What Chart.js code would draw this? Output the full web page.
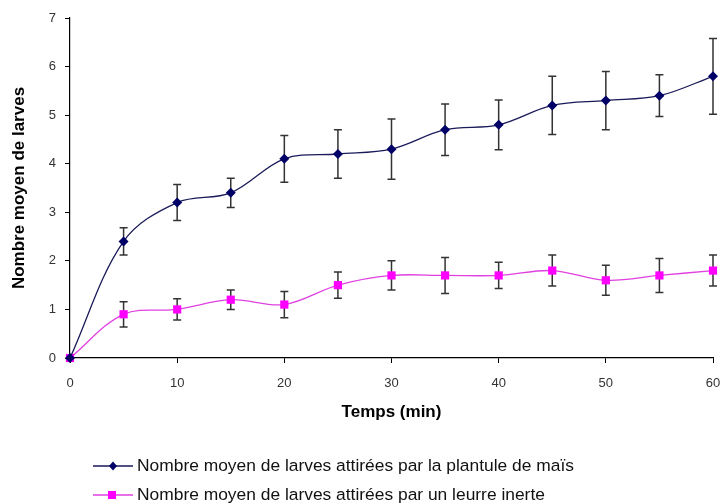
<!DOCTYPE html>
<html>
<head>
<meta charset="utf-8">
<script src="https://cdn.jsdelivr.net/npm/chart.js@4/dist/chart.umd.min.js"></script>
<style>
  html, body { margin: 0; padding: 0; background: #fff; }
  #wrap { width: 723px; height: 504px; }
</style>
</head>
<body>
<div id="wrap"><canvas id="chart" width="723" height="504"></canvas></div>
<script>
// time points (min)
const temps = [0, 5, 10, 15, 20, 25, 30, 35, 40, 45, 50, 55, 60];

// mean number of larvae, maize seedling
const mais = [0, 2.4, 3.2, 3.4, 4.1, 4.2, 4.3, 4.7, 4.8, 5.2, 5.3, 5.4, 5.8];
const maisErr = [0, 0.28, 0.37, 0.3, 0.48, 0.5, 0.62, 0.53, 0.51, 0.6, 0.6, 0.43, 0.78];

// mean number of larvae, inert lure
const leurre = [0, 0.9, 1.0, 1.2, 1.1, 1.5, 1.7, 1.7, 1.7, 1.8, 1.6, 1.7, 1.8];
const leurreErr = [0, 0.26, 0.22, 0.2, 0.27, 0.27, 0.3, 0.37, 0.27, 0.32, 0.31, 0.35, 0.32];

const yTicks = [0, 1, 2, 3, 4, 5, 6, 7];
const xTicks = [0, 10, 20, 30, 40, 50, 60];

const labelMais = 'Nombre moyen de larves attirées par la plantule de maïs';
const labelLeurre = 'Nombre moyen de larves attirées par un leurre inerte';

const toPoints = (ys) => temps.map((t, i) => ({ x: t, y: ys[i] }));

// draws the vertical error bars from the arrays above
const errorBars = {
  id: 'errorBars',
  beforeDatasetsDraw(chart) {
    const { ctx, scales: { x, y } } = chart;
    ctx.save();
    ctx.strokeStyle = '#333';
    ctx.lineWidth = 1.5;
    chart.data.datasets.forEach(ds => {
      ds.data.forEach((p, i) => {
        const e = ds.errors[i];
        if (!e) return;
        const px = x.getPixelForValue(p.x);
        const top = y.getPixelForValue(p.y + e);
        const bot = y.getPixelForValue(p.y - e);
        ctx.beginPath();
        ctx.moveTo(px, top); ctx.lineTo(px, bot);
        ctx.moveTo(px - 4, top); ctx.lineTo(px + 4, top);
        ctx.moveTo(px - 4, bot); ctx.lineTo(px + 4, bot);
        ctx.stroke();
      });
    });
    ctx.restore();
  }
};

// legend below the chart: line + marker, then the label
const bottomLegend = {
  id: 'bottomLegend',
  afterDraw(chart) {
    const { ctx } = chart;
    const rows = [466, 495];
    ctx.save();
    chart.data.datasets.forEach((ds, i) => {
      const yy = rows[i];
      ctx.strokeStyle = ds.borderColor;
      ctx.lineWidth = 1.5;
      ctx.beginPath();
      ctx.moveTo(93, yy); ctx.lineTo(133, yy);
      ctx.stroke();
      ctx.fillStyle = ds.pointBackgroundColor;
      if (ds.pointStyle === 'rect') {
        ctx.fillRect(108, yy - 4, 8, 8);
      } else {
        ctx.beginPath();
        ctx.moveTo(113, yy - 4.5); ctx.lineTo(117, yy);
        ctx.lineTo(113, yy + 4.5); ctx.lineTo(109, yy);
        ctx.closePath(); ctx.fill();
      }
      ctx.fillStyle = '#111';
      ctx.font = '17.4px "Liberation Sans", Arial, sans-serif';
      ctx.textBaseline = 'middle';
      ctx.fillText(ds.label, 137, yy);
    });
    ctx.restore();
  }
};

new Chart(document.getElementById('chart'), {
  type: 'line',
  data: {
    datasets: [
      {
        label: labelMais,
        data: toPoints(mais),
        errors: maisErr,
        borderColor: '#1a1a5a',
        borderWidth: 1.3,
        pointStyle: 'rectRot',
        pointRadius: 5,
        pointBackgroundColor: '#000066',
        pointBorderColor: '#000066',
        pointBorderWidth: 0,
        tension: 0.35,
        clip: false
      },
      {
        label: labelLeurre,
        data: toPoints(leurre),
        errors: leurreErr,
        borderColor: '#e040e0',
        borderWidth: 1.3,
        pointStyle: 'rect',
        pointRadius: 5.8,
        pointBackgroundColor: '#ff00ff',
        pointBorderColor: '#ff00ff',
        pointBorderWidth: 0,
        tension: 0.35,
        clip: false
      }
    ]
  },
  options: {
    responsive: false,
    animation: false,
    layout: { padding: { left: 0, top: 18, right: 0, bottom: 76 } },
    plugins: {
      legend: { display: false },
      tooltip: { enabled: false }
    },
    scales: {
      x: {
        type: 'linear',
        min: 0, max: 60,
        afterBuildTicks: (s) => { s.ticks = xTicks.map(v => ({ value: v })); },
        afterFit: (s) => { s.height = 70; s.paddingRight = 10; },
        grid: { drawOnChartArea: false, drawTicks: true, tickLength: 5, color: '#000' },
        border: { color: '#000', width: 1.2 },
        ticks: {
          padding: 13,
          color: '#333',
          font: { family: '"Liberation Sans", Arial, sans-serif', size: 13 },
          maxRotation: 0
        },
        title: {
          display: true,
          text: 'Temps (min)',
          color: '#000',
          font: { family: '"Liberation Sans", Arial, sans-serif', size: 17, weight: 'bold' },
          padding: { top: 0, bottom: 5 }
        }
      },
      y: {
        min: 0, max: 7,
        afterBuildTicks: (s) => { s.ticks = yTicks.map(v => ({ value: v })); },
        afterFit: (s) => { s.width = 70; },
        grid: { drawOnChartArea: false, drawTicks: true, tickLength: 5, color: '#000' },
        border: { color: '#000', width: 1.2 },
        ticks: {
          padding: 9,
          color: '#333',
          font: { family: '"Liberation Sans", Arial, sans-serif', size: 13 }
        },
        title: {
          display: true,
          text: 'Nombre moyen de larves',
          color: '#000',
          font: { family: '"Liberation Sans", Arial, sans-serif', size: 17, weight: 'bold' },
          padding: { top: 9, bottom: 0 }
        }
      }
    }
  },
  plugins: [errorBars, bottomLegend]
});
</script>
</body>
</html>
